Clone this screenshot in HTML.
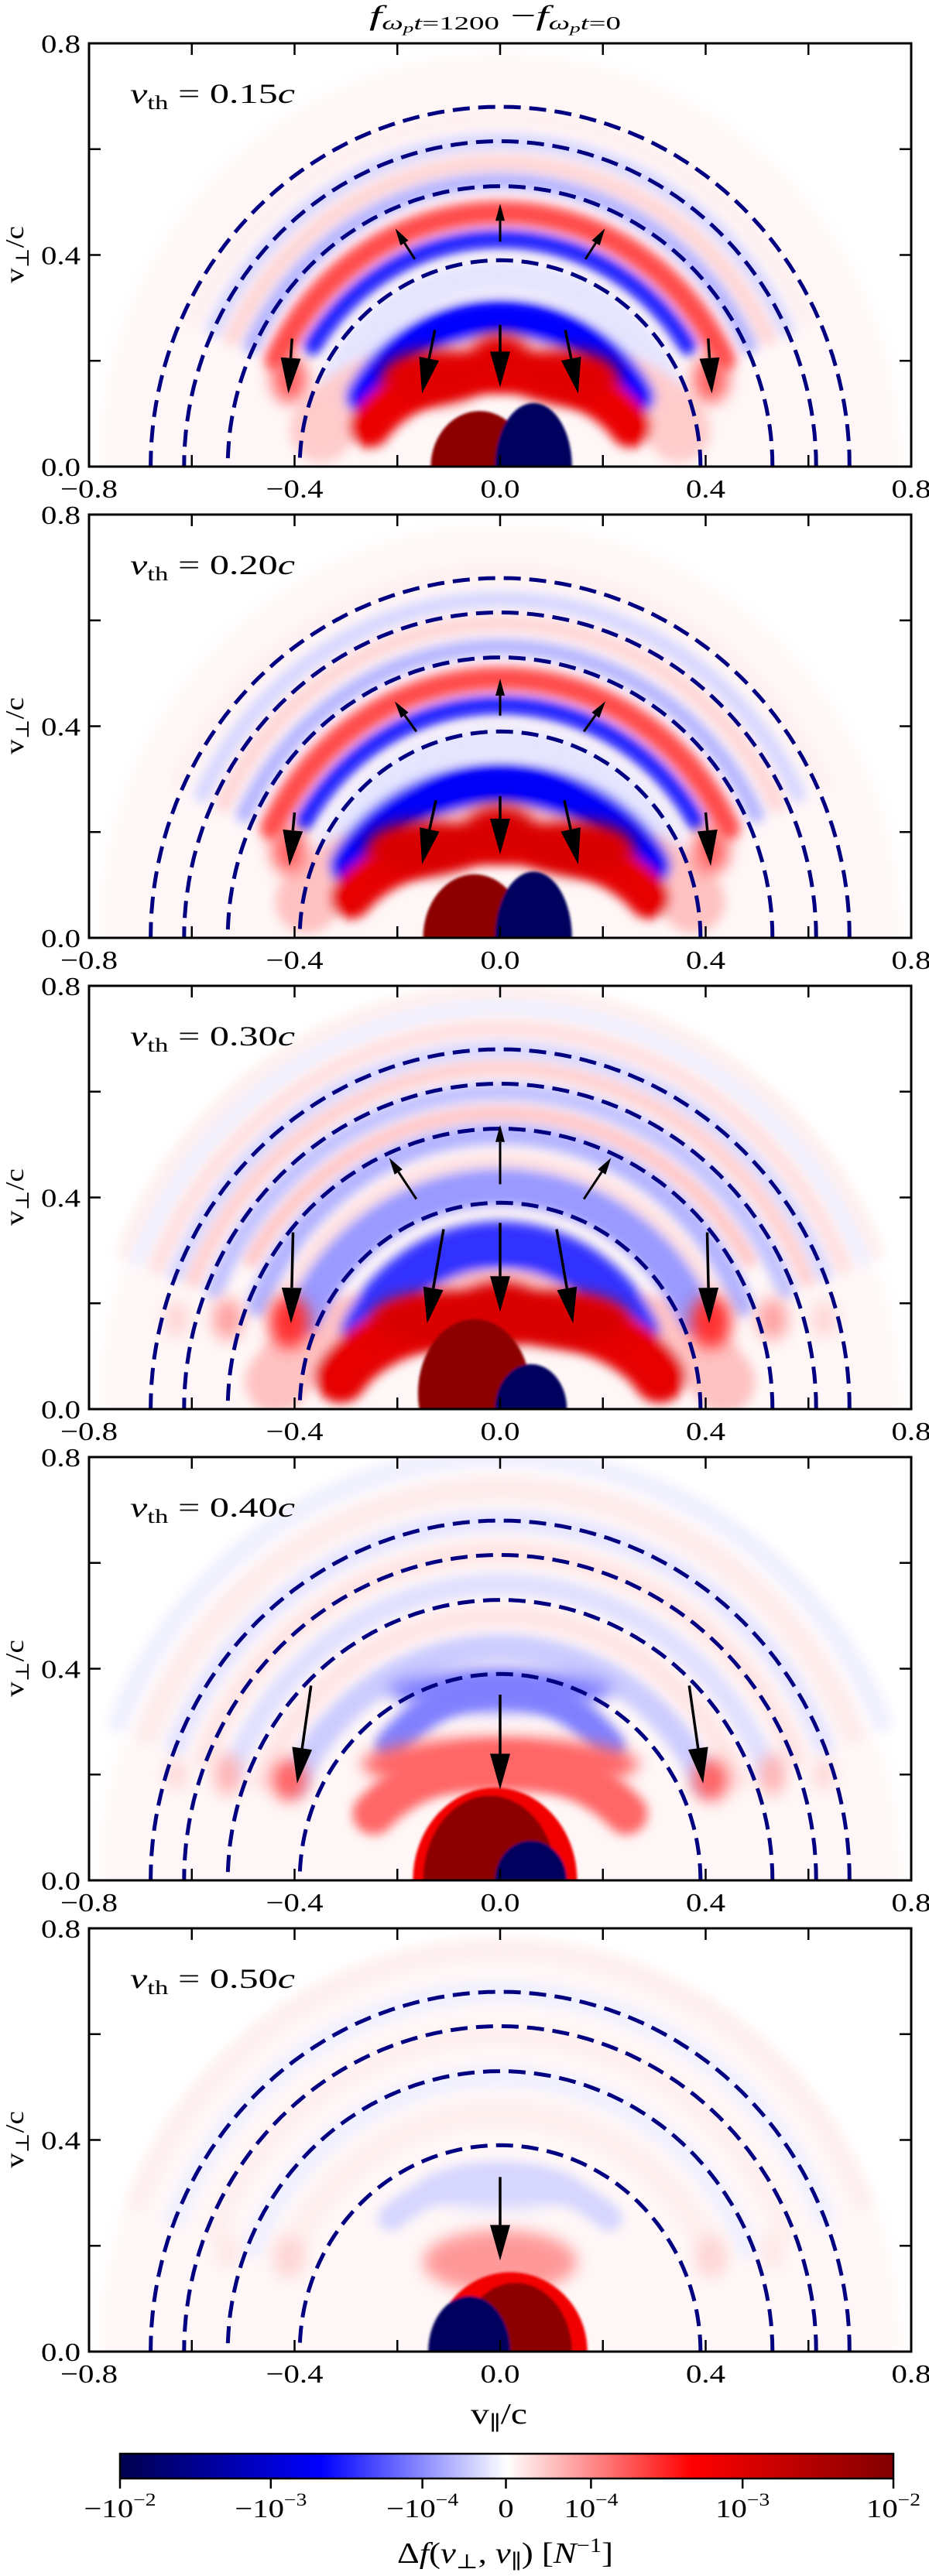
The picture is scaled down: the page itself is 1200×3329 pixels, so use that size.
<!DOCTYPE html>
<html><head><meta charset="utf-8"><title>Delta f panels</title>
<style>
html,body{margin:0;padding:0;background:#fff;width:1200px;height:3329px;overflow:hidden;}
svg{display:block;}
text{font-family:"Liberation Serif","DejaVu Serif",serif;fill:#000;}
</style></head>
<body>
<svg id="fig" xmlns="http://www.w3.org/2000/svg" width="1200" height="3329" viewBox="0 0 1200 3329">
<defs>
<filter id="blurBand" x="-20%" y="-20%" width="140%" height="140%"><feGaussianBlur stdDeviation="7"/></filter>
<filter id="blurBlob" x="-50%" y="-50%" width="200%" height="200%"><feGaussianBlur stdDeviation="10"/></filter>
<filter id="blurCore" x="-20%" y="-20%" width="140%" height="140%"><feGaussianBlur stdDeviation="1.5"/></filter>
<linearGradient id="seismic" x1="0" y1="0" x2="1" y2="0">
<stop offset="0" stop-color="#00004d"/><stop offset="0.26" stop-color="#0000ff"/><stop offset="0.5" stop-color="#ffffff"/><stop offset="0.74" stop-color="#ff0000"/><stop offset="1" stop-color="#800000"/>
</linearGradient>
</defs>
<text x="477" y="32" font-size="36" textLength="325" lengthAdjust="spacingAndGlyphs"><tspan font-style="italic">f</tspan><tspan font-size="24" dy="6" font-style="italic">ω</tspan><tspan font-size="17" dy="4" font-style="italic">p</tspan><tspan font-size="24" dy="-4" font-style="italic">t</tspan><tspan font-size="24">=1200</tspan><tspan dy="-6"> −</tspan><tspan font-style="italic">f</tspan><tspan font-size="24" dy="6" font-style="italic">ω</tspan><tspan font-size="17" dy="4" font-style="italic">p</tspan><tspan font-size="24" dy="-4" font-style="italic">t</tspan><tspan font-size="24">=0</tspan></text>
<g id="panels"></g>
<text x="608" y="3132" font-size="38" textLength="73" lengthAdjust="spacingAndGlyphs">v<tspan font-size="26" dy="8">∥</tspan><tspan dy="-8">/c</tspan></text>
<g id="colorbar"></g>
<text x="513" y="3312" font-size="38" textLength="279" lengthAdjust="spacingAndGlyphs">Δ<tspan font-style="italic">f</tspan>(<tspan font-style="italic">v</tspan><tspan font-size="26" dy="7">⊥</tspan><tspan dy="-7">, </tspan><tspan font-style="italic">v</tspan><tspan font-size="26" dy="7">∥</tspan><tspan dy="-7">) [</tspan><tspan font-style="italic">N</tspan><tspan font-size="26" dy="-14">−1</tspan><tspan dy="14">]</tspan></text>
</svg>
<script>
// ---------- data ----------
const vthLabels = ["0.15", "0.20", "0.30", "0.40", "0.50"];
const dashedRadii = [0.39, 0.53, 0.615, 0.68];
const xTicks = [-0.8, -0.6, -0.4, -0.2, 0.0, 0.2, 0.4, 0.6, 0.8];
const xTickLabels = ["−0.8", "", "−0.4", "", "0.0", "", "0.4", "", "0.8"];
const yTicks = [0.0, 0.2, 0.4, 0.6, 0.8];
const yTickLabels = ["0.0", "", "0.4", "", "0.8"];
// bands: [rx, ry, width, value(-1..1), angleStart, angleEnd]
const bandsP1 = [[0.37,0.2,0.12,0.1,20,160],[0.28,0.18,0.08,0.58,25,155],[0.3,0.28,0.07,-0.5,28,152],[0.36,0.36,0.06,-0.05,25,155],[0.43,0.43,0.035,-0.45,32,148],[0.48,0.48,0.045,0.35,25,155],[0.535,0.54,0.03,-0.15,25,155],[0.575,0.575,0.03,0.08,25,155],[0.615,0.615,0.03,-0.08,25,155],[0.66,0.66,0.03,0.03,25,155]];
const bandsP2 = [[0.4,0.2,0.12,0.12,20,160],[0.32,0.18,0.08,0.6,25,155],[0.33,0.29,0.08,-0.52,28,152],[0.37,0.37,0.06,-0.05,25,155],[0.44,0.44,0.035,-0.45,30,150],[0.49,0.49,0.045,0.35,25,155],[0.55,0.55,0.03,-0.15,25,155],[0.595,0.595,0.03,0.08,25,155],[0.64,0.64,0.03,-0.08,25,155],[0.69,0.69,0.03,0.03,25,155]];
const bandsP3 = [[0.45,0.2,0.12,0.12,15,165],[0.33,0.18,0.1,0.6,20,160],[0.3,0.31,0.09,-0.4,28,152],[0.42,0.42,0.07,-0.2,25,155],[0.47,0.47,0.025,0.06,25,155],[0.51,0.52,0.04,-0.15,22,158],[0.56,0.56,0.025,0.12,30,150],[0.6,0.6,0.035,-0.12,22,158],[0.645,0.645,0.025,0.1,22,158],[0.68,0.68,0.03,-0.08,22,158],[0.72,0.72,0.03,0.06,22,158],[0.76,0.76,0.03,-0.03,22,158],[0.79,0.79,0.03,0.03,22,158]];
const bandsP4 = [[0.3,0.22,0.08,0.3,35,145],[0.3,0.36,0.06,-0.25,45,135],[0.44,0.44,0.05,-0.1,25,155],[0.5,0.5,0.04,0.05,22,158],[0.56,0.56,0.04,-0.06,22,158],[0.62,0.62,0.04,0.05,22,158],[0.68,0.68,0.04,-0.05,22,158],[0.74,0.74,0.04,0.04,22,158],[0.8,0.8,0.04,-0.03,22,158]];
const bandsP5 = [[0.33,0.33,0.05,-0.08,50,130],[0.45,0.45,0.05,0.03,22,158],[0.52,0.52,0.04,-0.03,22,158],[0.6,0.6,0.04,0.03,22,158],[0.68,0.68,0.04,-0.03,22,158],[0.76,0.76,0.04,0.03,22,158]];
const panelBands = [bandsP1, bandsP2, bandsP3, bandsP4, bandsP5];
// blobs: [x, y, rx, ry, value]
const blobsP1 = [[-0.41,0.165,0.035,0.045,0.3],[0.41,0.165,0.035,0.045,0.3],[-0.13,0.17,0.1,0.05,0.62],[0.13,0.17,0.1,0.05,0.62],[0,0.2,0.06,0.05,0.62]];
const blobsP2 = [[-0.41,0.165,0.035,0.045,0.3],[0.41,0.165,0.035,0.045,0.3],[-0.15,0.17,0.11,0.05,0.65],[0.15,0.17,0.11,0.05,0.65],[0,0.2,0.07,0.05,0.65]];
const blobsP3 = [[-0.41,0.165,0.04,0.05,0.4],[0.41,0.165,0.04,0.05,0.4],[-0.53,0.17,0.03,0.04,0.18],[0.53,0.17,0.03,0.04,0.18],[-0.63,0.17,0.025,0.035,0.08],[0.63,0.17,0.025,0.035,0.08],[-0.13,0.17,0.12,0.05,0.65],[0.13,0.17,0.12,0.05,0.65],[0,0.18,0.08,0.06,0.65]];
const blobsP4 = [[0,0.22,0.27,0.05,0.3],[0,0.36,0.22,0.04,-0.25],[-0.41,0.19,0.035,0.04,0.3],[0.41,0.19,0.035,0.04,0.3],[-0.53,0.2,0.025,0.04,0.15],[0.53,0.2,0.025,0.04,0.15],[-0.63,0.2,0.02,0.03,0.08],[0.63,0.2,0.02,0.03,0.08]];
const blobsP5 = [[0,0.17,0.15,0.06,0.2],[0,0.31,0.15,0.04,-0.08],[-0.41,0.18,0.03,0.04,0.08],[0.41,0.18,0.03,0.04,0.08],[-0.53,0.19,0.02,0.035,0.05],[0.53,0.19,0.02,0.035,0.05]];
const panelBlobs = [blobsP1, blobsP2, blobsP3, blobsP4, blobsP5];
// cores: [cx, cy, rx, ry, value]
const coresP1 = [[-0.04,0,0.095,0.105,0.95],[0.065,0,0.075,0.12,-0.95]];
const coresP2 = [[-0.05,0,0.1,0.12,0.95],[0.065,0,0.075,0.125,-0.95]];
const coresP3 = [[-0.05,0.03,0.11,0.14,0.95],[0.06,0,0.07,0.085,-0.95]];
const coresP4 = [[-0.01,0,0.16,0.175,0.55],[-0.02,0,0.13,0.16,0.95],[0.06,0,0.07,0.075,-0.95]];
const coresP5 = [[0.02,0,0.15,0.15,0.55],[0.03,0,0.11,0.13,0.95],[-0.06,0,0.08,0.105,-0.95]];
const panelCores = [coresP1, coresP2, coresP3, coresP4, coresP5];
// arrows: [x0, y0, x1, y1]
const arrowsP1 = [[0,0.425,0,0.497],[-0.166,0.392,-0.204,0.45],[0.166,0.392,0.204,0.45],[0,0.268,0,0.15],[-0.127,0.258,-0.152,0.138],[0.127,0.258,0.152,0.138],[-0.405,0.242,-0.412,0.138],[0.405,0.242,0.412,0.138]];
const arrowsP2 = [[0,0.42,0,0.49],[-0.163,0.39,-0.205,0.447],[0.163,0.39,0.205,0.447],[0,0.268,0,0.158],[-0.125,0.26,-0.152,0.139],[0.125,0.26,0.152,0.139],[-0.4,0.237,-0.41,0.136],[0.4,0.237,0.41,0.136]];
const arrowsP3 = [[0,0.425,0,0.537],[-0.163,0.397,-0.216,0.475],[0.163,0.397,0.216,0.475],[0,0.352,0,0.184],[-0.11,0.34,-0.142,0.162],[0.11,0.34,0.142,0.162],[-0.403,0.334,-0.407,0.162],[0.403,0.334,0.407,0.162]];
const arrowsP4 = [[0,0.351,0,0.172],[-0.368,0.368,-0.395,0.183],[0.368,0.368,0.395,0.183]];
const arrowsP5 = [[0,0.33,0,0.172]];
const panelArrows = [arrowsP1, arrowsP2, arrowsP3, arrowsP4, arrowsP5];
// colorbar
const cbTickPos = [0, 0.195, 0.391, 0.499, 0.609, 0.805, 1];
const cbTickBase = ["−10", "−10", "−10", "0", "10", "10", "10"];
const cbTickExp = ["−2", "−3", "−4", "", "−4", "−3", "−2"];

// ---------- helpers ----------
const NS = "http://www.w3.org/2000/svg";
const LEFT = 115, RIGHT = 1177, PH = 547, PSTEP = 609, TOP0 = 56;
function X(v){ return 646 + v * (RIGHT - LEFT) / 1.6; }
function Y(i, v){ return TOP0 + PSTEP * i + PH - v * PH / 0.8; }
function mk(tag, attrs, parent){ const e = document.createElementNS(NS, tag); for (const k in attrs) e.setAttribute(k, attrs[k]); parent.appendChild(e); return e; }
const cmapStops = [[0,[0,0,77]],[0.25,[0,0,255]],[0.5,[255,255,255]],[0.75,[255,0,0]],[1,[128,0,0]]];
function cmap(v){
  const t = Math.max(0, Math.min(1, (v + 1) / 2));
  for (let k = 0; k < cmapStops.length - 1; k++){
    const a = cmapStops[k], b = cmapStops[k+1];
    if (t <= b[0]){ const f = (t - a[0]) / (b[0] - a[0]); const c = a[1].map((x, j) => Math.round(x + (b[1][j] - x) * f)); return "rgb(" + c.join(",") + ")"; }
  }
  return "rgb(128,0,0)";
}
function arcPath(i, rx, ry, a0, a1){
  let d = "";
  for (let a = a0; a <= a1 + 0.01; a += 2){
    const r = a * Math.PI / 180;
    d += (d ? "L" : "M") + X(rx * Math.cos(r)).toFixed(1) + "," + Y(i, ry * Math.sin(r)).toFixed(1);
  }
  return d;
}

const root = document.getElementById("panels");
for (let i = 0; i < 5; i++){
  const top = TOP0 + PSTEP * i, bot = top + PH;
  const g = mk("g", {}, root);
  
  
  const clip = mk("clipPath", {id: "clip" + i}, g);
  mk("rect", {x: LEFT, y: top, width: RIGHT - LEFT, height: PH}, clip);
  const plot = mk("g", {"clip-path": "url(#clip" + i + ")"}, g);
  
  
  const bg = mk("ellipse", {cx: X(0), cy: Y(i, 0), rx: 0.78 * 663, ry: 0.78 * 684, fill: cmap(0.015), filter: "url(#blurBlob)"}, plot);
  
  
  const bandG = mk("g", {filter: "url(#blurBand)"}, plot);
  const sorted = panelBands[i].slice().sort((a, b) => Math.abs(a[3]) - Math.abs(b[3]));
  sorted.forEach(b => {
    const p = mk("path", {d: arcPath(i, b[0], b[1], b[4], b[5]), fill: "none", stroke: cmap(b[3]), "stroke-width": (b[2] * 684).toFixed(1), "stroke-linecap": "round"}, bandG);
    
    
  });
  const blobG = mk("g", {filter: "url(#blurBlob)"}, plot);
  panelBlobs[i].forEach(b => {
    const e = mk("ellipse", {cx: X(b[0]), cy: Y(i, b[1]), rx: b[2] * 663, ry: b[3] * 684, fill: cmap(b[4])}, blobG);
    
    
  });
  const coreG = mk("g", {filter: "url(#blurCore)"}, plot);
  panelCores[i].forEach(c => {
    const e = mk("ellipse", {cx: X(c[0]), cy: Y(i, c[1]), rx: c[2] * 663, ry: c[3] * 684, fill: cmap(c[4])}, coreG);
    
    
  });
  dashedRadii.forEach(r => {
    const p = mk("path", {d: arcPath(i, r, r, 0, 180), fill: "none", stroke: "#000080", "stroke-width": 5, "stroke-dasharray": "22 11"}, plot);
    
    
  });
  panelArrows[i].forEach(a => {
    const x0 = X(a[0]), y0 = Y(i, a[1]), x1 = X(a[2]), y1 = Y(i, a[3]);
    const down = a[3] < a[1];
    const hl = down ? 46 : 22, hw = down ? 13 : 6;
    const dx = x1 - x0, dy = y1 - y0, L = Math.hypot(dx, dy), ux = dx / L, uy = dy / L;
    const bx = x1 - ux * hl, by = y1 - uy * hl;
    const ag = mk("g", {}, plot);
    
    
    mk("line", {x1: x0, y1: y0, x2: bx, y2: by, stroke: "#000", "stroke-width": down ? 3.5 : 3}, ag);
    mk("polygon", {points: [x1, y1, bx - uy * hw, by + ux * hw, bx + uy * hw, by - ux * hw].map(v => v.toFixed(1)).join(" "), fill: "#000"}, ag);
  });
  const fr = mk("rect", {x: LEFT, y: top, width: RIGHT - LEFT, height: PH, fill: "none", stroke: "#000", "stroke-width": 3}, g);
  
  
  xTicks.forEach((t, k) => {
    const x = X(t);
    mk("line", {x1: x, y1: bot, x2: x, y2: bot - 15, stroke: "#000", "stroke-width": 2.5}, g);
    mk("line", {x1: x, y1: top, x2: x, y2: top + 15, stroke: "#000", "stroke-width": 2.5}, g);
    if (xTickLabels[k]){
      const tx = mk("text", {x: 0, y: 0, "font-size": 34, "text-anchor": "middle", transform: "translate(" + x + "," + (bot + 40) + ") scale(1.2,1)"}, g);
      tx.textContent = xTickLabels[k];
      
      
    }
  });
  yTicks.forEach((t, k) => {
    const y = Y(i, t);
    mk("line", {x1: LEFT, y1: y, x2: LEFT + 15, y2: y, stroke: "#000", "stroke-width": 2.5}, g);
    mk("line", {x1: RIGHT, y1: y, x2: RIGHT - 15, y2: y, stroke: "#000", "stroke-width": 2.5}, g);
    if (yTickLabels[k]){
      const ty = mk("text", {x: 0, y: 0, "font-size": 34, "text-anchor": "end", transform: "translate(104," + (y + 12) + ") scale(1.2,1)"}, g);
      ty.textContent = yTickLabels[k];
      
      
    }
  });
  const yl = mk("text", {x: 0, y: 0, "font-size": 34, "text-anchor": "middle", transform: "translate(30," + (top + 273) + ") rotate(-90) scale(1.15,1)"}, g);
  yl.innerHTML = 'v<tspan font-size="24" dy="7">⊥</tspan><tspan dy="-7">/c</tspan>';
  
  
  const vl = mk("text", {x: 168, y: top + 77, "font-size": 36, textLength: 213, lengthAdjust: "spacingAndGlyphs"}, g);
  vl.innerHTML = '<tspan font-style="italic">v</tspan><tspan font-size="25" dy="8">th</tspan><tspan dy="-8"> = ' + vthLabels[i] + '</tspan><tspan font-style="italic">c</tspan>';
  
  
}

const cb = document.getElementById("colorbar");
const CB0 = 155, CB1 = 1154, CBT = 3171, CBB = 3203;
const cbr = mk("rect", {x: CB0, y: CBT, width: CB1 - CB0, height: CBB - CBT, fill: "url(#seismic)", stroke: "#000", "stroke-width": 2.5}, cb);


cbTickPos.forEach((p, k) => {
  const x = CB0 + p * (CB1 - CB0);
  mk("line", {x1: x, y1: CBB, x2: x, y2: CBB + 13, stroke: "#000", "stroke-width": 2.5}, cb);
  const t = mk("text", {x: 0, y: 0, "font-size": 34, "text-anchor": "middle", transform: "translate(" + x + ",3253) scale(1.2,1)"}, cb);
  t.innerHTML = cbTickBase[k] + (cbTickExp[k] ? '<tspan font-size="23" dy="-15">' + cbTickExp[k] + '</tspan>' : '');
  
  
});
</script>
</body></html>
